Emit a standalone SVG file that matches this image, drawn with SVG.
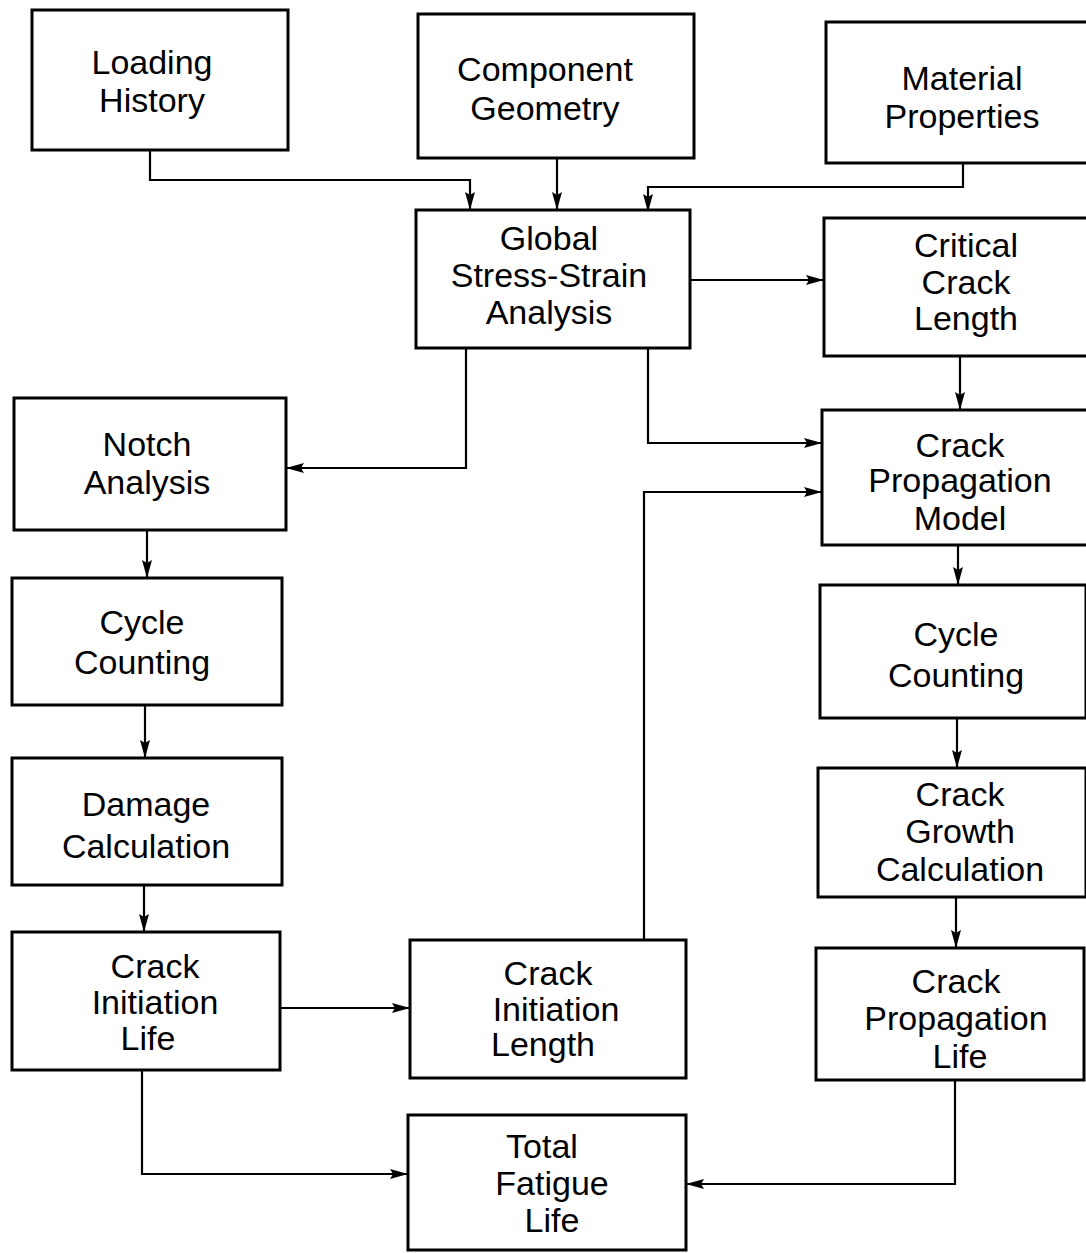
<svg xmlns="http://www.w3.org/2000/svg" width="1086" height="1253" viewBox="0 0 1086 1253">
<style>
.box{fill:#fff;stroke:#000;stroke-width:3}
.c{fill:none;stroke:#000;stroke-width:2.2}
text{font-family:"Liberation Sans",Arial,sans-serif;font-size:34px;text-anchor:middle;fill:#000}
</style>
<defs>
<marker id="a" viewBox="0 0 18 10" refX="18" refY="5" markerWidth="18" markerHeight="10" markerUnits="userSpaceOnUse" orient="auto">
<path d="M0,0 L18,5 L0,10 L3,5 Z" fill="#000"/>
</marker>
</defs>
<rect width="1086" height="1253" fill="#fff"/>
<g id="connectors">
<path class="c" d="M150,150 V180 H470 V210" marker-end="url(#a)"/>
<path class="c" d="M557,158 V210" marker-end="url(#a)"/>
<path class="c" d="M963,163 V187 H648 V212" marker-end="url(#a)"/>
<path class="c" d="M690,280 H824" marker-end="url(#a)"/>
<path class="c" d="M466,348 V468 H286" marker-end="url(#a)"/>
<path class="c" d="M648,348 V443 H822" marker-end="url(#a)"/>
<path class="c" d="M960,356 V410" marker-end="url(#a)"/>
<path class="c" d="M644,940 V492 H822" marker-end="url(#a)"/>
<path class="c" d="M147,530 V578" marker-end="url(#a)"/>
<path class="c" d="M145,705 V758" marker-end="url(#a)"/>
<path class="c" d="M144,885 V932" marker-end="url(#a)"/>
<path class="c" d="M280,1008 H410" marker-end="url(#a)"/>
<path class="c" d="M958,545 V585" marker-end="url(#a)"/>
<path class="c" d="M957,718 V768" marker-end="url(#a)"/>
<path class="c" d="M956,897 V948" marker-end="url(#a)"/>
<path class="c" d="M142,1070 V1174 H408" marker-end="url(#a)"/>
<path class="c" d="M955,1080 V1184 H686" marker-end="url(#a)"/>
</g>
<g id="loading-history"><rect class="box" x="32" y="10" width="256" height="140"/><text x="152" y="74">Loading</text><text x="152" y="112">History</text></g>
<g id="component-geometry"><rect class="box" x="418" y="14" width="276" height="144"/><text x="545" y="81">Component</text><text x="545" y="120">Geometry</text></g>
<g id="material-properties"><rect class="box" x="826" y="22" width="262" height="141"/><text x="962" y="90">Material</text><text x="962" y="128">Properties</text></g>
<g id="global-analysis"><rect class="box" x="416" y="210" width="274" height="138"/><text x="549" y="250">Global</text><text x="549" y="287">Stress-Strain</text><text x="549" y="324">Analysis</text></g>
<g id="critical-crack-length"><rect class="box" x="824" y="218" width="264" height="138"/><text x="966" y="257">Critical</text><text x="966" y="294">Crack</text><text x="966" y="330">Length</text></g>
<g id="notch-analysis"><rect class="box" x="14" y="398" width="272" height="132"/><text x="147" y="456">Notch</text><text x="147" y="494">Analysis</text></g>
<g id="crack-propagation-model"><rect class="box" x="822" y="410" width="266" height="135"/><text x="960" y="457">Crack</text><text x="960" y="492">Propagation</text><text x="960" y="530">Model</text></g>
<g id="cycle-counting-left"><rect class="box" x="12" y="578" width="270" height="127"/><text x="142" y="634">Cycle</text><text x="142" y="674">Counting</text></g>
<g id="cycle-counting-right"><rect class="box" x="820" y="585" width="266" height="133"/><text x="956" y="646">Cycle</text><text x="956" y="687">Counting</text></g>
<g id="damage-calculation"><rect class="box" x="12" y="758" width="270" height="127"/><text x="146" y="816">Damage</text><text x="146" y="858">Calculation</text></g>
<g id="crack-growth-calculation"><rect class="box" x="818" y="768" width="268" height="129"/><text x="960" y="806">Crack</text><text x="960" y="843">Growth</text><text x="960" y="881">Calculation</text></g>
<g id="crack-initiation-life"><rect class="box" x="12" y="932" width="268" height="138"/><text x="155" y="978">Crack</text><text x="155" y="1014">Initiation</text><text x="148" y="1050">Life</text></g>
<g id="crack-initiation-length"><rect class="box" x="410" y="940" width="276" height="138"/><text x="548" y="985">Crack</text><text x="556" y="1021">Initiation</text><text x="543" y="1056">Length</text></g>
<g id="crack-propagation-life"><rect class="box" x="816" y="948" width="268" height="132"/><text x="956" y="993">Crack</text><text x="956" y="1030">Propagation</text><text x="960" y="1068">Life</text></g>
<g id="total-fatigue-life"><rect class="box" x="408" y="1115" width="278" height="135"/><text x="542" y="1158">Total</text><text x="552" y="1195">Fatigue</text><text x="552" y="1232">Life</text></g>
</svg>
